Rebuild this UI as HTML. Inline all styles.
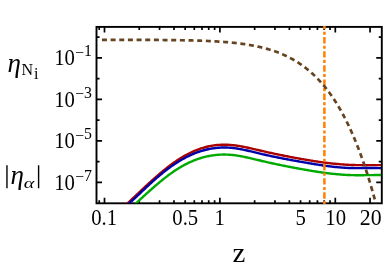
<!DOCTYPE html>
<html><head><meta charset="utf-8"><title>plot</title>
<style>html,body{margin:0;padding:0;background:#fff;}svg{display:block;font-family:"Liberation Serif",serif;}</style></head><body>
<svg width="390" height="269" viewBox="0 0 390 269">
<rect width="390" height="269" fill="#fff"/>
<defs><clipPath id="c"><rect x="96.5" y="26.9" width="285.3" height="176.4"/></clipPath><clipPath id="o"><rect x="96.5" y="25.95" width="285.3" height="178.3"/></clipPath></defs>
<rect x="96.5" y="26.9" width="285.3" height="176.4" fill="none" stroke="#000" stroke-width="1.9"/>
<path d="M104.50,203.3 v-5.55 M104.50,26.9 v5.55 M219.90,203.3 v-5.55 M219.90,26.9 v5.55 M335.30,203.3 v-5.55 M335.30,26.9 v5.55 M370.04,203.3 v-5.55 M370.04,26.9 v5.55 M99.22,203.3 v-3.05 M99.22,26.9 v3.05 M139.24,203.3 v-3.05 M139.24,26.9 v3.05 M159.56,203.3 v-3.05 M159.56,26.9 v3.05 M173.98,203.3 v-3.05 M173.98,26.9 v3.05 M185.16,203.3 v-3.05 M185.16,26.9 v3.05 M300.56,203.3 v-3.05 M300.56,26.9 v3.05 M194.30,203.3 v-3.05 M194.30,26.9 v3.05 M202.02,203.3 v-3.05 M202.02,26.9 v3.05 M208.72,203.3 v-3.05 M208.72,26.9 v3.05 M214.62,203.3 v-3.05 M214.62,26.9 v3.05 M254.64,203.3 v-3.05 M254.64,26.9 v3.05 M274.96,203.3 v-3.05 M274.96,26.9 v3.05 M289.38,203.3 v-3.05 M289.38,26.9 v3.05 M309.70,203.3 v-3.05 M309.70,26.9 v3.05 M317.42,203.3 v-3.05 M317.42,26.9 v3.05 M324.12,203.3 v-3.05 M324.12,26.9 v3.05 M330.02,203.3 v-3.05 M330.02,26.9 v3.05 M96.5,57.94 h5.55 M381.8,57.94 h-5.55 M96.5,99.42 h5.55 M381.8,99.42 h-5.55 M96.5,140.90 h5.55 M381.8,140.90 h-5.55 M96.5,182.38 h5.55 M381.8,182.38 h-5.55 M96.5,37.20 h3.05 M381.8,37.20 h-3.05 M96.5,78.68 h3.05 M381.8,78.68 h-3.05 M96.5,120.16 h3.05 M381.8,120.16 h-3.05 M96.5,161.64 h3.05 M381.8,161.64 h-3.05" stroke="#000" stroke-width="1.7" fill="none"/>
<g clip-path="url(#c)" fill="none" stroke-linejoin="round">
<path d="M115.00,214.76 L116.00,213.89 L117.00,213.01 L118.00,212.12 L119.00,211.22 L120.00,210.32 L121.00,209.41 L122.00,208.50 L123.00,207.59 L124.00,206.66 L125.00,205.74 L126.00,204.81 L127.00,203.88 L128.00,202.94 L129.00,202.01 L130.00,201.07 L131.00,200.13 L132.00,199.18 L133.00,198.24 L134.00,197.29 L135.00,196.35 L136.00,195.40 L137.00,194.45 L138.00,193.51 L139.00,192.56 L140.00,191.62 L141.00,190.68 L142.00,189.73 L143.00,188.80 L144.00,187.86 L145.00,186.93 L146.00,186.00 L147.00,185.07 L148.00,184.15 L149.00,183.23 L150.00,182.32 L151.00,181.41 L152.00,180.51 L153.00,179.61 L154.00,178.72 L155.00,177.83 L156.00,176.95 L157.00,176.08 L158.00,175.22 L159.00,174.36 L160.00,173.51 L161.00,172.66 L162.00,171.83 L163.00,171.01 L164.00,170.19 L165.00,169.38 L166.00,168.58 L167.00,167.79 L168.00,167.02 L169.00,166.25 L170.00,165.49 L171.00,164.74 L172.00,164.01 L173.00,163.28 L174.00,162.57 L175.00,161.87 L176.00,161.18 L177.00,160.51 L178.00,159.85 L179.00,159.20 L180.00,158.56 L181.00,157.94 L182.00,157.33 L183.00,156.74 L184.00,156.16 L185.00,155.59 L186.00,155.04 L187.00,154.50 L188.00,153.98 L189.00,153.47 L190.00,152.97 L191.00,152.49 L192.00,152.02 L193.00,151.57 L194.00,151.13 L195.00,150.71 L196.00,150.30 L197.00,149.90 L198.00,149.52 L199.00,149.15 L200.00,148.80 L201.00,148.46 L202.00,148.14 L203.00,147.83 L204.00,147.54 L205.00,147.26 L206.00,147.00 L207.00,146.75 L208.00,146.51 L209.00,146.29 L210.00,146.09 L211.00,145.90 L212.00,145.72 L213.00,145.56 L214.00,145.41 L215.00,145.28 L216.00,145.16 L217.00,145.06 L218.00,144.97 L219.00,144.89 L220.00,144.83 L221.00,144.78 L222.00,144.74 L223.00,144.72 L224.00,144.71 L225.00,144.71 L226.00,144.73 L227.00,144.76 L228.00,144.80 L229.00,144.85 L230.00,144.92 L231.00,145.00 L232.00,145.09 L233.00,145.19 L234.00,145.30 L235.00,145.42 L236.00,145.55 L237.00,145.69 L238.00,145.84 L239.00,146.00 L240.00,146.17 L241.00,146.34 L242.00,146.52 L243.00,146.71 L244.00,146.91 L245.00,147.11 L246.00,147.31 L247.00,147.52 L248.00,147.74 L249.00,147.96 L250.00,148.18 L251.00,148.40 L252.00,148.63 L253.00,148.86 L254.00,149.10 L255.00,149.33 L256.00,149.56 L257.00,149.80 L258.00,150.03 L259.00,150.27 L260.00,150.50 L261.00,150.73 L262.00,150.97 L263.00,151.20 L264.00,151.42 L265.00,151.65 L266.00,151.88 L267.00,152.10 L268.00,152.32 L269.00,152.55 L270.00,152.77 L271.00,152.99 L272.00,153.20 L273.00,153.42 L274.00,153.63 L275.00,153.85 L276.00,154.06 L277.00,154.27 L278.00,154.48 L279.00,154.69 L280.00,154.89 L281.00,155.10 L282.00,155.30 L283.00,155.51 L284.00,155.71 L285.00,155.91 L286.00,156.10 L287.00,156.30 L288.00,156.50 L289.00,156.69 L290.00,156.88 L291.00,157.07 L292.00,157.26 L293.00,157.45 L294.00,157.64 L295.00,157.83 L296.00,158.01 L297.00,158.19 L298.00,158.37 L299.00,158.55 L300.00,158.73 L301.00,158.91 L302.00,159.08 L303.00,159.26 L304.00,159.43 L305.00,159.60 L306.00,159.77 L307.00,159.94 L308.00,160.11 L309.00,160.27 L310.00,160.43 L311.00,160.60 L312.00,160.76 L313.00,160.91 L314.00,161.07 L315.00,161.22 L316.00,161.38 L317.00,161.53 L318.00,161.67 L319.00,161.82 L320.00,161.96 L321.00,162.10 L322.00,162.24 L323.00,162.38 L324.00,162.51 L325.00,162.64 L326.00,162.77 L327.00,162.89 L328.00,163.02 L329.00,163.14 L330.00,163.25 L331.00,163.37 L332.00,163.48 L333.00,163.58 L334.00,163.69 L335.00,163.79 L336.00,163.89 L337.00,163.98 L338.00,164.07 L339.00,164.16 L340.00,164.25 L341.00,164.33 L342.00,164.40 L343.00,164.48 L344.00,164.55 L345.00,164.61 L346.00,164.68 L347.00,164.73 L348.00,164.79 L349.00,164.84 L350.00,164.88 L351.00,164.92 L352.00,164.96 L353.00,165.00 L354.00,165.03 L355.00,165.05 L356.00,165.08 L357.00,165.10 L358.00,165.11 L359.00,165.13 L360.00,165.14 L361.00,165.15 L362.00,165.16 L363.00,165.17 L364.00,165.17 L365.00,165.17 L366.00,165.18 L367.00,165.18 L368.00,165.17 L369.00,165.17 L370.00,165.17 L371.00,165.17 L372.00,165.17 L373.00,165.16 L374.00,165.16 L375.00,165.16 L376.00,165.16 L377.00,165.15 L378.00,165.15 L379.00,165.15 L380.00,165.16 L381.00,165.16" stroke="#aa0000" stroke-width="2.4"/>
<path d="M115.00,216.37 L116.00,215.46 L117.00,214.55 L118.00,213.64 L119.00,212.73 L120.00,211.82 L121.00,210.91 L122.00,210.00 L123.00,209.09 L124.00,208.17 L125.00,207.25 L126.00,206.34 L127.00,205.42 L128.00,204.50 L129.00,203.57 L130.00,202.65 L131.00,201.72 L132.00,200.80 L133.00,199.87 L134.00,198.94 L135.00,198.01 L136.00,197.07 L137.00,196.13 L138.00,195.20 L139.00,194.26 L140.00,193.31 L141.00,192.37 L142.00,191.42 L143.00,190.47 L144.00,189.53 L145.00,188.58 L146.00,187.64 L147.00,186.71 L148.00,185.77 L149.00,184.84 L150.00,183.92 L151.00,183.01 L152.00,182.10 L153.00,181.20 L154.00,180.31 L155.00,179.43 L156.00,178.55 L157.00,177.69 L158.00,176.83 L159.00,175.98 L160.00,175.14 L161.00,174.32 L162.00,173.50 L163.00,172.69 L164.00,171.89 L165.00,171.10 L166.00,170.32 L167.00,169.55 L168.00,168.80 L169.00,168.05 L170.00,167.32 L171.00,166.60 L172.00,165.89 L173.00,165.19 L174.00,164.50 L175.00,163.83 L176.00,163.17 L177.00,162.53 L178.00,161.89 L179.00,161.27 L180.00,160.66 L181.00,160.07 L182.00,159.49 L183.00,158.93 L184.00,158.38 L185.00,157.84 L186.00,157.31 L187.00,156.80 L188.00,156.31 L189.00,155.83 L190.00,155.36 L191.00,154.90 L192.00,154.46 L193.00,154.03 L194.00,153.62 L195.00,153.22 L196.00,152.83 L197.00,152.46 L198.00,152.10 L199.00,151.75 L200.00,151.42 L201.00,151.10 L202.00,150.80 L203.00,150.51 L204.00,150.23 L205.00,149.97 L206.00,149.72 L207.00,149.48 L208.00,149.25 L209.00,149.04 L210.00,148.85 L211.00,148.66 L212.00,148.49 L213.00,148.34 L214.00,148.20 L215.00,148.07 L216.00,147.95 L217.00,147.85 L218.00,147.76 L219.00,147.68 L220.00,147.62 L221.00,147.57 L222.00,147.53 L223.00,147.51 L224.00,147.50 L225.00,147.50 L226.00,147.52 L227.00,147.55 L228.00,147.60 L229.00,147.65 L230.00,147.72 L231.00,147.80 L232.00,147.90 L233.00,148.01 L234.00,148.13 L235.00,148.26 L236.00,148.40 L237.00,148.55 L238.00,148.71 L239.00,148.88 L240.00,149.06 L241.00,149.25 L242.00,149.44 L243.00,149.64 L244.00,149.85 L245.00,150.06 L246.00,150.28 L247.00,150.50 L248.00,150.73 L249.00,150.96 L250.00,151.20 L251.00,151.43 L252.00,151.67 L253.00,151.91 L254.00,152.16 L255.00,152.40 L256.00,152.64 L257.00,152.89 L258.00,153.13 L259.00,153.37 L260.00,153.61 L261.00,153.85 L262.00,154.08 L263.00,154.31 L264.00,154.54 L265.00,154.77 L266.00,154.99 L267.00,155.22 L268.00,155.44 L269.00,155.66 L270.00,155.87 L271.00,156.09 L272.00,156.30 L273.00,156.51 L274.00,156.72 L275.00,156.93 L276.00,157.13 L277.00,157.34 L278.00,157.54 L279.00,157.74 L280.00,157.94 L281.00,158.14 L282.00,158.33 L283.00,158.53 L284.00,158.72 L285.00,158.91 L286.00,159.10 L287.00,159.29 L288.00,159.48 L289.00,159.66 L290.00,159.85 L291.00,160.03 L292.00,160.22 L293.00,160.40 L294.00,160.58 L295.00,160.76 L296.00,160.94 L297.00,161.12 L298.00,161.30 L299.00,161.47 L300.00,161.65 L301.00,161.82 L302.00,162.00 L303.00,162.17 L304.00,162.35 L305.00,162.52 L306.00,162.69 L307.00,162.86 L308.00,163.03 L309.00,163.20 L310.00,163.37 L311.00,163.54 L312.00,163.71 L313.00,163.88 L314.00,164.04 L315.00,164.20 L316.00,164.36 L317.00,164.52 L318.00,164.68 L319.00,164.84 L320.00,164.99 L321.00,165.14 L322.00,165.29 L323.00,165.44 L324.00,165.58 L325.00,165.72 L326.00,165.86 L327.00,165.99 L328.00,166.13 L329.00,166.25 L330.00,166.38 L331.00,166.50 L332.00,166.62 L333.00,166.74 L334.00,166.85 L335.00,166.95 L336.00,167.06 L337.00,167.15 L338.00,167.25 L339.00,167.34 L340.00,167.42 L341.00,167.51 L342.00,167.58 L343.00,167.65 L344.00,167.72 L345.00,167.78 L346.00,167.84 L347.00,167.89 L348.00,167.93 L349.00,167.97 L350.00,168.00 L351.00,168.03 L352.00,168.05 L353.00,168.07 L354.00,168.08 L355.00,168.09 L356.00,168.10 L357.00,168.10 L358.00,168.10 L359.00,168.09 L360.00,168.09 L361.00,168.08 L362.00,168.07 L363.00,168.06 L364.00,168.05 L365.00,168.04 L366.00,168.03 L367.00,168.02 L368.00,168.01 L369.00,168.00 L370.00,168.00 L371.00,168.00 L372.00,168.00 L373.00,168.00 L374.00,168.01 L375.00,168.02 L376.00,168.04 L377.00,168.06 L378.00,168.09 L379.00,168.12 L380.00,168.16 L381.00,168.20" stroke="#0000aa" stroke-width="2.4"/>
<path d="M115.00,222.85 L116.00,221.95 L117.00,221.05 L118.00,220.15 L119.00,219.24 L120.00,218.33 L121.00,217.41 L122.00,216.49 L123.00,215.57 L124.00,214.64 L125.00,213.71 L126.00,212.78 L127.00,211.85 L128.00,210.91 L129.00,209.98 L130.00,209.04 L131.00,208.10 L132.00,207.16 L133.00,206.22 L134.00,205.28 L135.00,204.34 L136.00,203.41 L137.00,202.47 L138.00,201.53 L139.00,200.60 L140.00,199.67 L141.00,198.74 L142.00,197.81 L143.00,196.88 L144.00,195.96 L145.00,195.04 L146.00,194.13 L147.00,193.22 L148.00,192.31 L149.00,191.41 L150.00,190.52 L151.00,189.62 L152.00,188.74 L153.00,187.86 L154.00,186.99 L155.00,186.12 L156.00,185.26 L157.00,184.41 L158.00,183.56 L159.00,182.72 L160.00,181.89 L161.00,181.07 L162.00,180.26 L163.00,179.45 L164.00,178.66 L165.00,177.87 L166.00,177.10 L167.00,176.33 L168.00,175.58 L169.00,174.83 L170.00,174.10 L171.00,173.38 L172.00,172.67 L173.00,171.97 L174.00,171.29 L175.00,170.61 L176.00,169.95 L177.00,169.31 L178.00,168.67 L179.00,168.06 L180.00,167.45 L181.00,166.86 L182.00,166.28 L183.00,165.72 L184.00,165.17 L185.00,164.64 L186.00,164.12 L187.00,163.62 L188.00,163.12 L189.00,162.65 L190.00,162.19 L191.00,161.74 L192.00,161.30 L193.00,160.88 L194.00,160.48 L195.00,160.08 L196.00,159.70 L197.00,159.34 L198.00,158.99 L199.00,158.65 L200.00,158.33 L201.00,158.02 L202.00,157.72 L203.00,157.44 L204.00,157.17 L205.00,156.91 L206.00,156.67 L207.00,156.44 L208.00,156.22 L209.00,156.02 L210.00,155.83 L211.00,155.65 L212.00,155.49 L213.00,155.34 L214.00,155.21 L215.00,155.08 L216.00,154.97 L217.00,154.88 L218.00,154.79 L219.00,154.72 L220.00,154.66 L221.00,154.62 L222.00,154.58 L223.00,154.56 L224.00,154.56 L225.00,154.56 L226.00,154.58 L227.00,154.61 L228.00,154.65 L229.00,154.71 L230.00,154.78 L231.00,154.86 L232.00,154.95 L233.00,155.06 L234.00,155.17 L235.00,155.30 L236.00,155.43 L237.00,155.58 L238.00,155.73 L239.00,155.90 L240.00,156.07 L241.00,156.25 L242.00,156.44 L243.00,156.63 L244.00,156.83 L245.00,157.04 L246.00,157.25 L247.00,157.46 L248.00,157.68 L249.00,157.91 L250.00,158.14 L251.00,158.37 L252.00,158.60 L253.00,158.84 L254.00,159.08 L255.00,159.32 L256.00,159.56 L257.00,159.80 L258.00,160.04 L259.00,160.27 L260.00,160.51 L261.00,160.75 L262.00,160.98 L263.00,161.22 L264.00,161.45 L265.00,161.68 L266.00,161.91 L267.00,162.13 L268.00,162.36 L269.00,162.58 L270.00,162.81 L271.00,163.03 L272.00,163.25 L273.00,163.46 L274.00,163.68 L275.00,163.90 L276.00,164.11 L277.00,164.32 L278.00,164.53 L279.00,164.74 L280.00,164.95 L281.00,165.15 L282.00,165.36 L283.00,165.56 L284.00,165.76 L285.00,165.96 L286.00,166.16 L287.00,166.36 L288.00,166.56 L289.00,166.75 L290.00,166.95 L291.00,167.14 L292.00,167.33 L293.00,167.52 L294.00,167.71 L295.00,167.90 L296.00,168.08 L297.00,168.27 L298.00,168.45 L299.00,168.63 L300.00,168.82 L301.00,169.00 L302.00,169.17 L303.00,169.35 L304.00,169.53 L305.00,169.70 L306.00,169.88 L307.00,170.05 L308.00,170.22 L309.00,170.39 L310.00,170.56 L311.00,170.73 L312.00,170.89 L313.00,171.06 L314.00,171.22 L315.00,171.38 L316.00,171.54 L317.00,171.69 L318.00,171.85 L319.00,172.00 L320.00,172.15 L321.00,172.29 L322.00,172.44 L323.00,172.58 L324.00,172.72 L325.00,172.85 L326.00,172.98 L327.00,173.11 L328.00,173.24 L329.00,173.36 L330.00,173.48 L331.00,173.60 L332.00,173.71 L333.00,173.82 L334.00,173.93 L335.00,174.03 L336.00,174.13 L337.00,174.23 L338.00,174.32 L339.00,174.41 L340.00,174.49 L341.00,174.57 L342.00,174.64 L343.00,174.71 L344.00,174.78 L345.00,174.84 L346.00,174.90 L347.00,174.95 L348.00,174.99 L349.00,175.04 L350.00,175.07 L351.00,175.11 L352.00,175.13 L353.00,175.16 L354.00,175.17 L355.00,175.19 L356.00,175.20 L357.00,175.21 L358.00,175.21 L359.00,175.21 L360.00,175.21 L361.00,175.21 L362.00,175.20 L363.00,175.19 L364.00,175.18 L365.00,175.17 L366.00,175.16 L367.00,175.15 L368.00,175.14 L369.00,175.12 L370.00,175.11 L371.00,175.10 L372.00,175.09 L373.00,175.08 L374.00,175.07 L375.00,175.06 L376.00,175.05 L377.00,175.05 L378.00,175.04 L379.00,175.04 L380.00,175.05 L381.00,175.05" stroke="#00aa00" stroke-width="2.4"/>
</g><g clip-path="url(#o)" fill="none">
<path d="M324.4,204.1 L324.4,20" stroke="#ff8000" stroke-width="2.5" stroke-dasharray="3.1 2.307 6.4 2.307"/>
</g><g clip-path="url(#c)" fill="none">
<path d="M101.93,39.81 L102.63,39.81 L103.33,39.81 L104.03,39.81 L104.73,39.81 L105.43,39.81 L106.13,39.82 L106.83,39.82 L107.53,39.82 L108.23,39.82 L108.93,39.82 L109.63,39.82 L110.33,39.82 L111.03,39.82 L111.73,39.82 L112.43,39.82 L113.13,39.82 L113.83,39.82 L114.53,39.82 L115.23,39.83 L115.93,39.83 L116.63,39.83 L117.33,39.83 L118.03,39.83 L118.73,39.83 L119.43,39.83 L120.13,39.83 L120.83,39.83 L121.53,39.84 L122.23,39.84 L122.93,39.84 L123.63,39.84 L124.33,39.84 L125.03,39.84 L125.73,39.84 L126.43,39.84 L127.13,39.85 L127.83,39.85 L128.53,39.85 L129.23,39.85 L129.93,39.85 L130.63,39.85 L131.33,39.86 L132.03,39.86 L132.73,39.86 L133.43,39.86 L134.13,39.86 L134.83,39.87 L135.53,39.87 L136.23,39.87 L136.93,39.87 L137.63,39.87 L138.33,39.88 L139.03,39.88 L139.73,39.88 L140.43,39.88 L141.13,39.89 L141.83,39.89 L142.53,39.89 L143.23,39.89 L143.93,39.90 L144.63,39.90 L145.33,39.90 L146.03,39.91 L146.73,39.91 L147.43,39.91 L148.13,39.92 L148.83,39.92 L149.53,39.92 L150.23,39.93 L150.93,39.93 L151.63,39.93 L152.33,39.94 L153.03,39.94 L153.73,39.95 L154.43,39.95 L155.13,39.96 L155.83,39.96 L156.53,39.96 L157.23,39.97 L157.93,39.97 L158.63,39.98 L159.33,39.98 L160.03,39.99 L160.73,40.00 L161.43,40.00 L162.13,40.01 L162.83,40.01 L163.53,40.02 L164.23,40.03 L164.93,40.03 L165.63,40.04 L166.33,40.04 L167.03,40.05 L167.73,40.06 L168.43,40.07 L169.13,40.07 L169.83,40.08 L170.53,40.09 L171.23,40.10 L171.93,40.11 L172.63,40.11 L173.33,40.12 L174.03,40.13 L174.73,40.14 L175.43,40.15 L176.13,40.16 L176.83,40.17 L177.53,40.18 L178.23,40.19 L178.93,40.20 L179.63,40.21 L180.33,40.23 L181.03,40.24 L181.73,40.25 L182.43,40.26 L183.13,40.27 L183.83,40.29 L184.53,40.30 L185.23,40.31 L185.93,40.33 L186.63,40.34 L187.33,40.36 L188.03,40.37 L188.73,40.39 L189.43,40.40 L190.13,40.42 L190.83,40.44 L191.53,40.45 L192.23,40.47 L192.93,40.49 L193.63,40.51 L194.33,40.53 L195.03,40.55 L195.73,40.57 L196.43,40.59 L197.13,40.61 L197.83,40.63 L198.53,40.65 L199.23,40.67 L199.93,40.70 L200.63,40.72 L201.33,40.75 L202.03,40.77 L202.73,40.80 L203.43,40.82 L204.13,40.85 L204.83,40.88 L205.53,40.90 L206.23,40.93 L206.93,40.96 L207.63,40.99 L208.33,41.02 L209.03,41.06 L209.73,41.09 L210.43,41.12 L211.13,41.16 L211.83,41.19 L212.53,41.23 L213.23,41.26 L213.93,41.30 L214.63,41.34 L215.33,41.38 L216.03,41.42 L216.73,41.46 L217.43,41.50 L218.13,41.55 L218.83,41.59 L219.53,41.64 L220.23,41.68 L220.93,41.73 L221.63,41.78 L222.33,41.83 L223.03,41.88 L223.73,41.93 L224.43,41.99 L225.13,42.04 L225.83,42.10 L226.53,42.16 L227.23,42.21 L227.93,42.27 L228.63,42.34 L229.33,42.40 L230.03,42.46 L230.73,42.53 L231.43,42.60 L232.13,42.66 L232.83,42.73 L233.53,42.81 L234.23,42.88 L234.93,42.96 L235.63,43.03 L236.33,43.11 L237.03,43.19 L237.73,43.27 L238.43,43.36 L239.13,43.44 L239.83,43.53 L240.53,43.62 L241.23,43.71 L241.93,43.80 L242.63,43.90 L243.33,44.00 L244.03,44.10 L244.73,44.20 L245.43,44.30 L246.13,44.41 L246.83,44.52 L247.53,44.63 L248.23,44.74 L248.93,44.86 L249.63,44.98 L250.33,45.10 L251.03,45.22 L251.73,45.35 L252.43,45.48 L253.13,45.61 L253.83,45.74 L254.53,45.88 L255.23,46.02 L255.93,46.16 L256.63,46.31 L257.33,46.45 L258.03,46.61 L258.73,46.76 L259.43,46.92 L260.13,47.08 L260.83,47.24 L261.53,47.41 L262.23,47.58 L262.93,47.76 L263.63,47.93 L264.33,48.12 L265.03,48.30 L265.73,48.49 L266.43,48.68 L267.13,48.88 L267.83,49.08 L268.53,49.28 L269.23,49.49 L269.93,49.71 L270.63,49.92 L271.33,50.14 L272.03,50.37 L272.73,50.60 L273.42,50.83 L274.12,51.07 L274.82,51.31 L275.52,51.56 L276.22,51.81 L276.92,52.07 L277.62,52.33 L278.32,52.60 L279.02,52.87 L279.72,53.15 L280.42,53.43 L281.12,53.72 L281.82,54.02 L282.52,54.31 L283.22,54.62 L283.92,54.93 L284.62,55.25 L285.32,55.57 L286.02,55.90 L286.72,56.23 L287.42,56.57 L288.12,56.92 L288.82,57.27 L289.52,57.63 L290.22,57.99 L290.92,58.37 L291.62,58.74 L292.32,59.13 L293.02,59.52 L293.72,59.92 L294.42,60.33 L295.12,60.74 L295.82,61.17 L296.52,61.60 L297.22,62.03 L297.92,62.48 L298.62,62.93 L299.32,63.39 L300.02,63.86 L300.72,64.34 L301.42,64.82 L302.12,65.32 L302.82,65.82 L303.52,66.33 L304.22,66.85 L304.92,67.38 L305.62,67.92 L306.32,68.46 L307.02,69.02 L307.72,69.59 L308.42,70.17 L309.12,70.75 L309.82,71.35 L310.52,71.95 L311.22,72.57 L311.92,73.20 L312.62,73.84 L313.32,74.48 L314.02,75.14 L314.72,75.82 L315.42,76.50 L316.12,77.19 L316.82,77.90 L317.52,78.61 L318.22,79.34 L318.92,80.08 L319.62,80.84 L320.32,81.60 L321.02,82.38 L321.72,83.17 L322.42,83.98 L323.12,84.79 L323.82,85.63 L324.52,86.47 L325.22,87.33 L325.92,88.20 L326.62,89.09 L327.32,89.99 L328.02,90.91 L328.72,91.84 L329.42,92.79 L330.12,93.75 L330.82,94.72 L331.52,95.72 L332.22,96.73 L332.92,97.75 L333.62,98.79 L334.32,99.85 L335.02,100.93 L335.72,102.02 L336.42,103.13 L337.12,104.26 L337.82,105.40 L338.52,106.57 L339.22,107.75 L339.92,108.95 L340.62,110.17 L341.32,111.41 L342.02,112.67 L342.72,113.95 L343.42,115.25 L344.12,116.56 L344.82,117.90 L345.52,119.27 L346.22,120.65 L346.92,122.05 L347.62,123.48 L348.32,124.93 L349.02,126.40 L349.72,127.89 L350.42,129.41 L351.12,130.95 L351.82,132.51 L352.52,134.10 L353.22,135.71 L353.92,137.35 L354.62,139.02 L355.32,140.71 L356.02,142.42 L356.72,144.16 L357.42,145.93 L358.12,147.73 L358.82,149.55 L359.52,151.40 L360.22,153.28 L360.92,155.19 L361.62,157.12 L362.32,159.09 L363.02,161.09 L363.72,163.11 L364.42,165.17 L365.12,167.26 L365.82,169.38 L366.52,171.53 L367.22,173.72 L367.92,175.93 L368.62,178.19 L369.32,180.47 L370.02,182.79 L370.72,185.15 L371.42,187.54 L372.12,189.97 L372.82,192.43 L373.52,194.93 L374.22,197.47 L374.92,200.04 L375.62,202.66 L376.32,205.31 L377.02,208.00 L377.72,210.74 L378.42,213.51 L379.12,216.33 L379.82,219.19 L380.52,222.09 L381.22,225.03" stroke="#664422" stroke-width="2.7" stroke-dasharray="5 3.66"/>
</g>
<g opacity="0.999">
<text transform="translate(104.10,225.10) scale(0.9,1)" font-size="23" text-anchor="middle">0.1</text>
<text transform="translate(185.26,225.10) scale(0.9,1)" font-size="23" text-anchor="middle">0.5</text>
<text transform="translate(219.70,225.10) scale(0.9,1)" font-size="23" text-anchor="middle">1</text>
<text transform="translate(300.66,225.10) scale(0.9,1)" font-size="23" text-anchor="middle">5</text>
<text transform="translate(335.70,225.10) scale(0.9,1)" font-size="23" text-anchor="middle">10</text>
<text transform="translate(370.64,225.10) scale(0.95,1)" font-size="23" text-anchor="middle">20</text>
<text transform="translate(54.20,65.09) scale(0.9,1)" font-size="23" text-anchor="start">10</text>
<text transform="translate(75.20,57.59) scale(1.0,1)" font-size="15.8" text-anchor="start">−</text>
<text transform="translate(84.11,56.29) scale(1.0,1)" font-size="15.8" text-anchor="start">1</text>
<text transform="translate(54.20,106.57) scale(0.9,1)" font-size="23" text-anchor="start">10</text>
<text transform="translate(75.20,99.07) scale(1.0,1)" font-size="15.8" text-anchor="start">−</text>
<text transform="translate(84.11,97.77) scale(1.0,1)" font-size="15.8" text-anchor="start">3</text>
<text transform="translate(54.20,148.05) scale(0.9,1)" font-size="23" text-anchor="start">10</text>
<text transform="translate(75.20,140.55) scale(1.0,1)" font-size="15.8" text-anchor="start">−</text>
<text transform="translate(84.11,139.25) scale(1.0,1)" font-size="15.8" text-anchor="start">5</text>
<text transform="translate(54.20,189.53) scale(0.9,1)" font-size="23" text-anchor="start">10</text>
<text transform="translate(75.20,182.03) scale(1.0,1)" font-size="15.8" text-anchor="start">−</text>
<text transform="translate(84.11,180.73) scale(1.0,1)" font-size="15.8" text-anchor="start">7</text>
<text transform="translate(232.50,261.70) scale(1.1,1)" font-size="26.3" text-anchor="start">z</text>
<text transform="translate(7.60,72.30) scale(1.0,1)" font-size="27" text-anchor="start" font-style="italic">η</text>
<text transform="translate(21.60,75.40) scale(1.0,1)" font-size="16" text-anchor="start">N</text>
<text transform="translate(34.00,78.70) scale(1.0,1)" font-size="16" text-anchor="start">i</text>
<text transform="translate(10.50,184.00) scale(1.0,1)" font-size="27" text-anchor="start" font-style="italic">η</text>
<text transform="translate(23.80,187.80) scale(1.3,1)" font-size="15.5" text-anchor="start" font-style="italic">α</text>
<path d="M6.95,165.3 V188.3 M38.6,165.3 V188.3" stroke="#000" stroke-width="1.4"/>
</g>
</svg></body></html>
